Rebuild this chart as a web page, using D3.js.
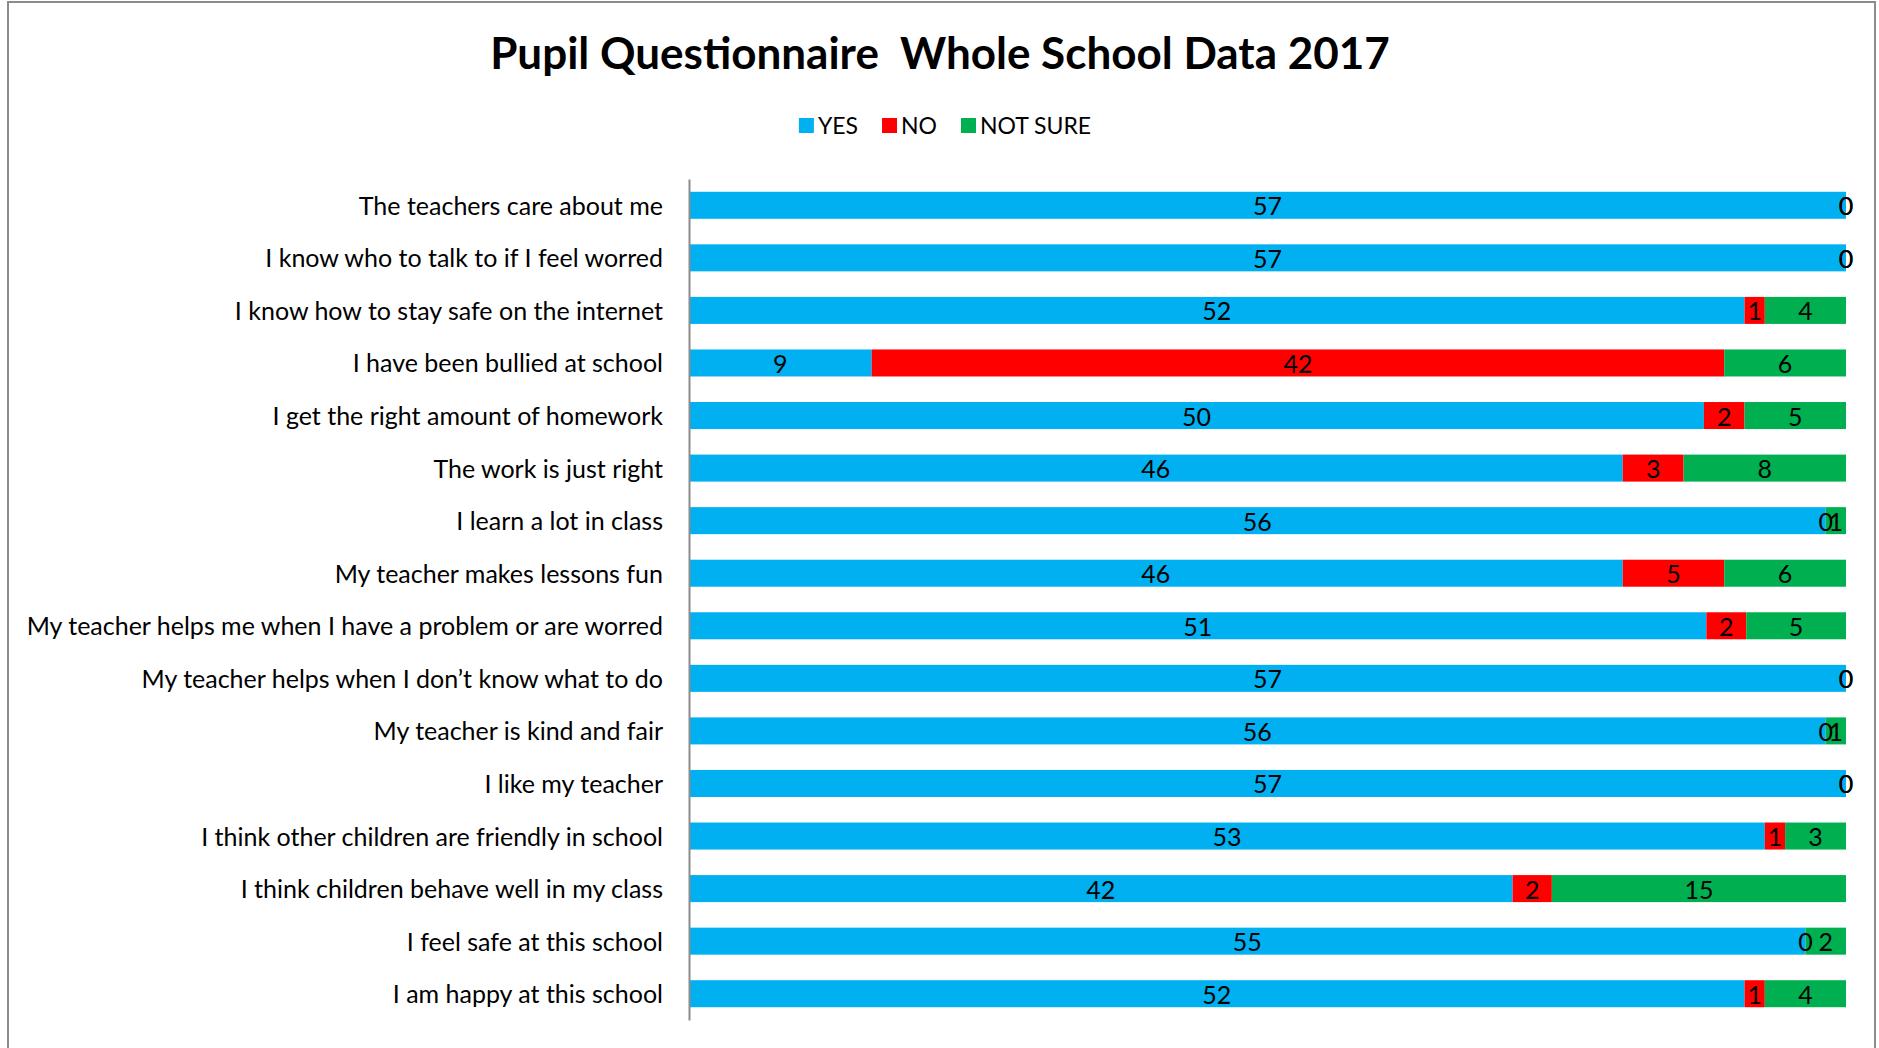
<!DOCTYPE html>
<html>
<head>
<meta charset="utf-8">
<script src="https://cdn.jsdelivr.net/npm/d3@7"></script>
<style>
  body { margin: 0; background: #fff; }
  svg { display: block; font-family: Lato, "Open Sans", sans-serif; }
</style>
</head>
<body>
<div id="chart"></div>
<script>
// Data (top row first)
var questions = [
  "The teachers care about me",
  "I know who to talk to if I feel worred",
  "I know how to stay safe on the internet",
  "I have been bullied at school",
  "I get the right amount of homework",
  "The work is just right",
  "I learn a lot in class",
  "My teacher makes lessons fun",
  "My teacher helps me when I have a problem or are worred",
  "My teacher helps when I don\u2019t know what to do",
  "My teacher is kind and fair",
  "I like my teacher",
  "I think other children are friendly in school",
  "I think children behave well in my class",
  "I feel safe at this school",
  "I am happy at this school"
];
var yes     = [57, 57, 52,  9, 50, 46, 56, 46, 51, 57, 56, 57, 53, 42, 55, 52];
var no      = [ 0,  0,  1, 42,  2,  3,  0,  5,  2,  0,  0,  0,  1,  2,  0,  1];
var notSure = [ 0,  0,  4,  6,  5,  8,  1,  6,  5,  0,  1,  0,  3, 15,  2,  4];
var seriesNames = ["YES", "NO", "NOT SURE"];
var colors = ["#00B0F0", "#FF0000", "#00B050"];

var chart_width  = 1879;
var chart_height = 1048;

// 100% stacked: turn each row into shares
var rows = questions.map(function(q, i) {
  return { q: q, YES: yes[i], NO: no[i], "NOT SURE": notSure[i] };
});
var stack = d3.stack()
  .keys(seriesNames)
  .offset(d3.stackOffsetExpand);
var layers = stack(rows);

var x = d3.scaleLinear().domain([0, 1]).range([689, 1846]);
var y = d3.scaleBand()
  .domain(questions)
  .range([179, 1020])
  .paddingInner(0.486)
  .paddingOuter(0.243);

var svg = d3.select('#chart')
  .append('svg')
  .attr('width', chart_width)
  .attr('height', chart_height);

// outer frame
svg.append('rect')
  .attr('x', 8).attr('y', 2)
  .attr('width', 1867).attr('height', 1060)
  .attr('fill', 'none')
  .attr('stroke', '#8c8c8c')
  .attr('stroke-width', 2);

// title
svg.append('text')
  .attr('x', 940)
  .attr('y', 69)
  .attr('text-anchor', 'middle')
  .style('font-size', '44px')
  .style('font-weight', 'bold')
  .style('white-space', 'pre')
  .text('Pupil Questionnaire  Whole School Data 2017');

// legend
var legend = svg.append('g').attr('class', 'legend');
var lx = 0;
seriesNames.forEach(function(name, i) {
  var g = legend.append('g').attr('transform', 'translate(' + lx + ',0)');
  g.append('rect')
    .attr('x', 0).attr('y', 118)
    .attr('width', 15).attr('height', 15)
    .attr('fill', colors[i]);
  var t = g.append('text')
    .attr('x', 19).attr('y', 134)
    .style('font-size', '23px')
    .text(name);
  lx += 19 + t.node().getComputedTextLength() + 24;
});
var legendW = lx - 24;
legend.attr('transform', 'translate(' + (945 - legendW / 2) + ',0)');

// bars
var groups = svg.selectAll('g.layer')
  .data(layers)
  .enter()
  .append('g')
  .attr('class', 'layer')
  .attr('fill', function(d, i) { return colors[i]; });

groups.selectAll('rect')
  .data(function(d) { return d; })
  .enter()
  .append('rect')
  .attr('x', function(d) { return x(d[0]); })
  .attr('y', function(d) { return y(d.data.q); })
  .attr('width', function(d) { return x(d[1]) - x(d[0]); })
  .attr('height', y.bandwidth());

// category axis
var axis = svg.append('g')
  .attr('transform', 'translate(689,0)')
  .call(d3.axisLeft(y).tickSize(0).tickSizeOuter(0).tickPadding(26));
axis.select('.domain')
  .attr('stroke', '#8c8c8c')
  .attr('stroke-width', 2);
axis.selectAll('text')
  .attr('dy', '0.38em')
  .style('font-family', 'Lato, "Open Sans", sans-serif')
  .style('font-size', '25px')
  .attr('fill', '#000');

// data labels
var labels = svg.selectAll('g.labels')
  .data(layers)
  .enter()
  .append('g')
  .attr('class', 'labels');

labels.selectAll('text')
  .data(function(d) {
    return d.map(function(p) { return { p: p, key: d.key }; });
  })
  .enter()
  .append('text')
  .attr('x', function(d) { return (x(d.p[0]) + x(d.p[1])) / 2; })
  .attr('y', function(d) { return y(d.p.data.q) + y.bandwidth() / 2; })
  .attr('dy', '0.4em')
  .attr('text-anchor', 'middle')
  .style('font-size', '25px')
  .text(function(d) { return d.p.data[d.key]; });
</script>
</body>
</html>
